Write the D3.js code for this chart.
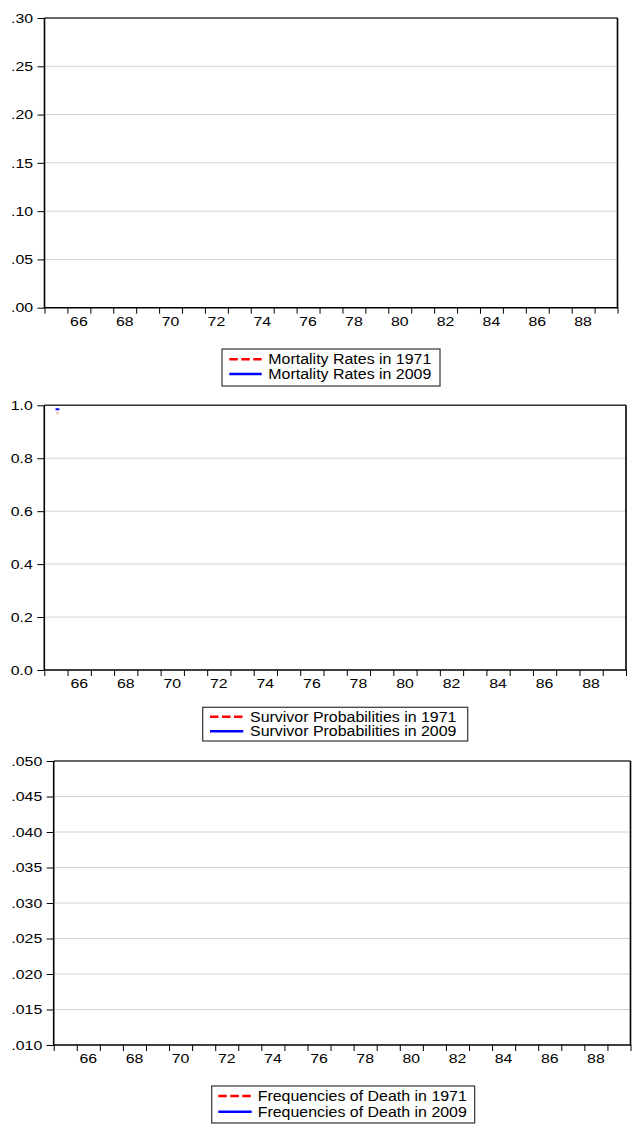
<!DOCTYPE html>
<html>
<head>
<meta charset="utf-8">
<script src="https://cdn.jsdelivr.net/npm/d3@7"></script>
<style>
  body { margin: 0; background: #fff; }
  svg { display: block; }
  text { font-family: "Liberation Sans", Arial, sans-serif; fill: #000; }
</style>
</head>
<body>
<script>
const width = 632;
const height = 1125;

// observations (age) and the labelled ones on the x axis
const ages = [65, 66, 67, 68, 69, 70, 71, 72, 73, 74, 75, 76, 77, 78, 79, 80, 81, 82, 83, 84, 85, 86, 87, 88, 89];
const ageLabels = [66, 68, 70, 72, 74, 76, 78, 80, 82, 84, 86, 88];

// panel 1: mortality rates (nothing visible in the picture)
const mortalityAges = [];
const mortality1971 = [];
const mortality2009 = [];
const mortalityTicks = [0, 0.05, 0.10, 0.15, 0.20, 0.25, 0.30];

// panel 2: survivor probabilities (only the first age is visible)
const survivorAges = [65];
const survivor1971 = [0.970];
const survivor2009 = [0.985];
const survivorTicks = [0, 0.2, 0.4, 0.6, 0.8, 1.0];

// panel 3: frequencies of death (nothing visible in the picture)
const frequencyAges = [];
const frequency1971 = [];
const frequency2009 = [];
const frequencyTicks = [0.010, 0.015, 0.020, 0.025, 0.030, 0.035, 0.040, 0.045, 0.050];

const legend1 = ["Mortality Rates in 1971", "Mortality Rates in 2009"];
const legend2 = ["Survivor Probabilities in 1971", "Survivor Probabilities in 2009"];
const legend3 = ["Frequencies of Death in 1971", "Frequencies of Death in 2009"];

const svg = d3.select("body")
      .append("svg")
      .attr("width", width)
      .attr("height", height);

const noLead = f => v => f(v).replace(/^0\./, ".");

function panel(o) {
    const x = d3.scaleLinear()
	  .domain([ages[0] - 0.5, ages[ages.length - 1] + 0.5])
	  .range([o.left, o.right]);
    const y = d3.scaleLinear()
	  .domain([o.ticks[0], o.ticks[o.ticks.length - 1]])
	  .range([o.bottom, o.top]);

    const g = svg.append("g");

    // grid
    g.append("g")
	.selectAll("line")
	.data(o.ticks.slice(1, -1))
	.enter()
	.append("line")
	.attr("x1", o.left).attr("x2", o.right)
	.attr("y1", d => y(d)).attr("y2", d => y(d))
	.attr("stroke", "#d4d4d4")
	.attr("stroke-width", 1);

    // y axis
    const ya = g.append("g")
	  .attr("transform", `translate(${o.left},0)`)
	  .call(d3.axisLeft(y).tickValues(o.ticks).tickFormat(o.format).tickSize(7).tickPadding(3));
    ya.select(".domain").remove();
    ya.selectAll("line").attr("stroke", "#000");
    ya.selectAll("text")
	.attr("font-size", 13)
	.attr("x", -9.4)
	.attr("transform", "scale(1.22,1)");

    // x axis: ticks at boundaries, labels at observations
    const bounds = ages.map(a => a - 0.5).concat([ages[ages.length - 1] + 0.5]);
    const xa = g.append("g")
	  .attr("transform", `translate(0,${o.bottom})`)
	  .call(d3.axisBottom(x).tickValues(bounds).tickFormat("").tickSize(6));
    xa.select(".domain").remove();
    xa.selectAll("line").attr("stroke", "#000");

    const xl = g.append("g")
	  .attr("transform", `translate(0,${o.bottom})`)
	  .call(d3.axisBottom(x).tickValues(ageLabels).tickSize(0).tickPadding(9));
    xl.select(".domain").remove();
    xl.selectAll("text")
	.attr("font-size", 13)
	.attr("transform", "scale(1.22,1)")
	.attr("x", function (d) { return 0; });
    // keep labels centred after horizontal stretch
    xl.selectAll(".tick")
	.attr("transform", d => `translate(${x(d)},0)`);

    // frame
    g.append("path")
	.attr("fill", "none")
	.attr("stroke", "#333")
	.attr("stroke-width", 1.5)
	.attr("d", `M${o.left},${o.top}H${o.right}`);
    g.append("path")
	.attr("fill", "none")
	.attr("stroke", "#000")
	.attr("stroke-width", 1.6)
	.attr("d", `M${o.left},${o.top}V${o.bottom}H${o.right}V${o.top}`);

    // series
    const line = d3.line()
	  .x((d, i) => x(o.ages[i]))
	  .y(d => y(d));
    if (o.ages.length > 1) {
	g.append("path").attr("fill", "none").attr("stroke", "#ff0000")
	    .attr("stroke-width", 1.5).attr("stroke-dasharray", "5,3")
	    .attr("d", line(o.s1));
	g.append("path").attr("fill", "none").attr("stroke", "#0000ff")
	    .attr("stroke-width", 1.5)
	    .attr("d", line(o.s2));
    } else if (o.ages.length === 1) {
	g.append("rect")
	    .attr("x", x(o.ages[0]) + 0.3).attr("width", 2.5)
	    .attr("y", y(o.s1[0]) - 1).attr("height", 1.5)
	    .attr("fill", "#ff9999");
	g.append("rect")
	    .attr("x", x(o.ages[0]) - 0.4).attr("width", 3.8)
	    .attr("y", y(o.s2[0]) - 1).attr("height", 2)
	    .attr("fill", "#0000ff");
    }

    // legend
    const L = o.legend;
    const lg = svg.append("g");
    lg.append("rect")
	.attr("x", L.x).attr("y", L.y)
	.attr("width", L.w).attr("height", L.h)
	.attr("fill", "#fff")
	.attr("stroke", "#333")
	.attr("stroke-width", 1.2);
    o.labels.forEach((t, i) => {
	const cy = L.y + L.r0 + i * L.dy;
	lg.append("line")
	    .attr("x1", L.s0).attr("x2", L.s1)
	    .attr("y1", cy).attr("y2", cy)
	    .attr("stroke", i === 0 ? "#ff0000" : "#0000ff")
	    .attr("stroke-width", 2.6)
	    .attr("stroke-dasharray", i === 0 ? "8.5,3.5" : null);
	lg.append("text")
	    .attr("transform", `translate(${L.tx},${cy + 5}) scale(1.1,1)`)
	    .attr("font-size", 14.5)
	    .text(t);
    });
}

panel({
    left: 44.5, right: 617.5, top: 18, bottom: 307.7,
    ticks: mortalityTicks, format: noLead(d3.format(".2f")),
    ages: mortalityAges, s1: mortality1971, s2: mortality2009,
    labels: legend1,
    legend: { x: 222, y: 349, w: 218, h: 37, r0: 10.3, dy: 14.7, s0: 229.3, s1: 261.7, tx: 268.3 }
});

panel({
    left: 44.3, right: 626, top: 405.3, bottom: 670,
    ticks: survivorTicks, format: d3.format(".1f"),
    ages: survivorAges, s1: survivor1971, s2: survivor2009,
    labels: legend2,
    legend: { x: 202.7, y: 707.3, w: 265, h: 33.7, r0: 9.4, dy: 14.6, s0: 210, s1: 243.3, tx: 250 }
});

panel({
    left: 53.7, right: 630.5, top: 761, bottom: 1045,
    ticks: frequencyTicks, format: noLead(d3.format(".3f")),
    ages: frequencyAges, s1: frequency1971, s2: frequency2009,
    labels: legend3,
    legend: { x: 211.7, y: 1086, w: 263, h: 37, r0: 10, dy: 15.7, s0: 218.3, s1: 251.7, tx: 257.7 }
});
</script>
</body>
</html>
